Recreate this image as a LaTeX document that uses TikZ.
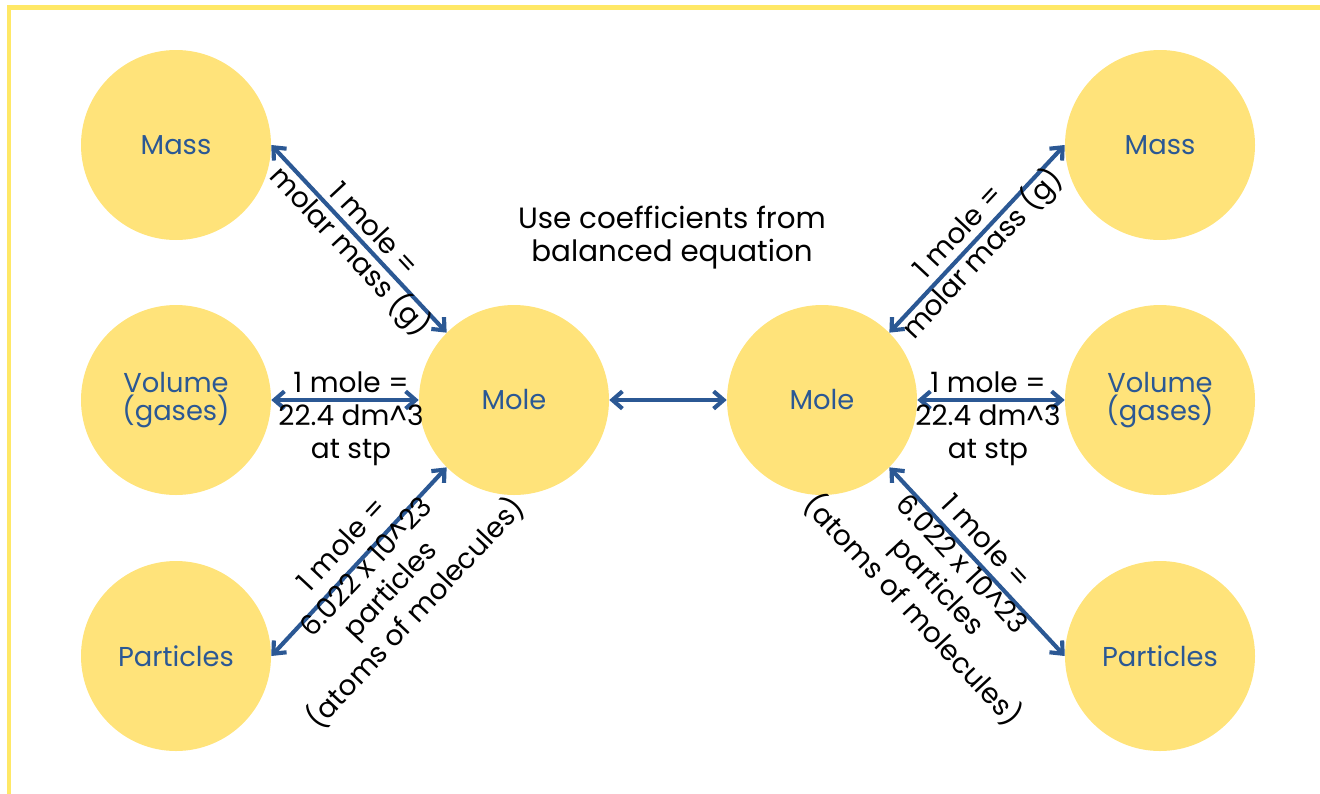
\documentclass[tikz,border=0pt]{standalone}
\usepackage{fontspec}
\setmainfont{Poppins}
\usetikzlibrary{arrows.meta}
\definecolor{circfill}{HTML}{FFE37A}
\definecolor{framecol}{HTML}{FFE866}
\definecolor{blu}{HTML}{2B5894}
\newcommand\mytightlines{\lineskiplimit=-20pt\relax\lineskip=0pt\relax}
\begin{document}
\begin{tikzpicture}[x=0.75pt,y=-0.75pt,
  circnode/.style={circle, fill=circfill, minimum size=142.5pt, inner sep=0pt, text=blu,
    font=\fontsize{20.5}{19.5}\selectfont\mytightlines, align=center},
  conn/.style={draw=blu, line width=3.1pt,
    {Straight Barb[length=7.5pt,width=13pt]}-{Straight Barb[length=7.5pt,width=13pt]}},
  lbl/.style={font=\fontsize{21}{24.75}\selectfont, align=center, text=black, inner sep=0pt}]
\path[use as bounding box] (0,0) rectangle (1320,793);
\clip (0,0) rectangle (1320,793);
\draw[framecol, line width=3.6pt] (9,800) -- (9,7.5) -- (1330,7.5);

\node[circnode] (massL) at (176,145) {Mass};
\node[circnode] (volL) at (176,400) {Volume\\[2pt](gases)};
\node[circnode] (partL) at (176,656) {Particles};
\node[circnode] (moleL) at (514,400) {Mole};
\node[circnode] (moleR) at (822,400) {Mole};
\node[circnode] (massR) at (1160,145) {Mass};
\node[circnode] (volR) at (1160,400) {Volume\\[2pt](gases)};
\node[circnode] (partR) at (1160,656) {Particles};

\draw[conn] (massL.east) -- (moleL.135);
\draw[conn] (volL.east) -- (moleL.west);
\draw[conn] (partL.east) -- (moleL.225);
\draw[conn] (moleL.east) -- (moleR.west);
\draw[conn] (moleR.45) -- (massR.west);
\draw[conn] (moleR.east) -- (volR.west);
\draw[conn] (moleR.315) -- (partR.west);

\node[lbl, rotate=-47] (l1) at (360,242) {1 mole =\\molar mass (g)};
\node[lbl] (l2) at (351,419) {1 mole =\\22.4 dm\textasciicircum 3\\at stp};
\node[lbl, rotate=47] (l3) at (380,580) {1 mole =\\6.022 x 10\textasciicircum 23\\particles\\(atoms of molecules)};
\node[lbl, font=\fontsize{22}{24.75}\selectfont] (title) at (672,238) {Use coefficients from\\balanced equation};
\node[lbl, rotate=47] (l5) at (972,245) {1 mole =\\molar mass (g)};
\node[lbl] (l6) at (988,419) {1 mole =\\22.4 dm\textasciicircum 3\\at stp};
\node[lbl, rotate=-47] (l7) at (948,577) {1 mole =\\6.022 x 10\textasciicircum 23\\particles\\(atoms of molecules)};
\end{tikzpicture}
\end{document}
